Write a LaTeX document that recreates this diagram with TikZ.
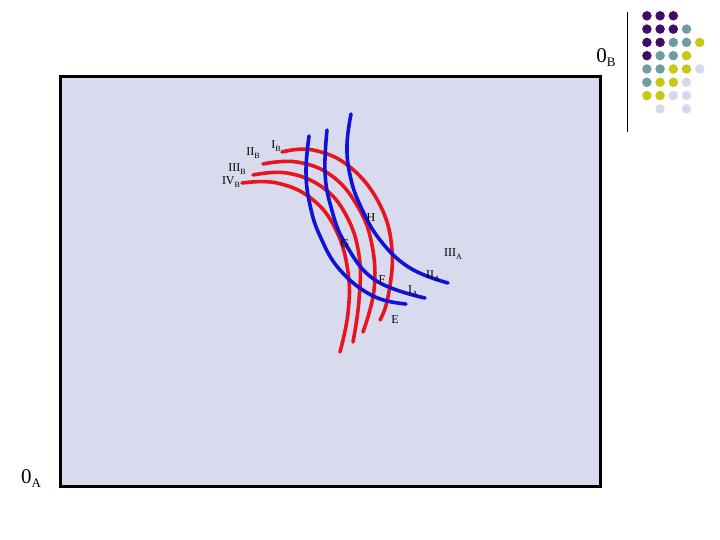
\documentclass[tikz,border=0pt]{standalone}
\usepackage{fontspec}
\setmainfont{Liberation Serif}
\definecolor{boxfill}{HTML}{D8DAEE}
\definecolor{cred}{HTML}{E8141E}
\definecolor{cblue}{HTML}{1212D6}
\definecolor{dpurple}{HTML}{400C68}
\definecolor{dteal}{HTML}{6E9CA0}
\definecolor{dyellow}{HTML}{C8C812}
\definecolor{dlav}{HTML}{D6D8EC}
\newcommand{\lbl}[2]{#1\raisebox{-2.5pt}{\fontsize{8}{8}\selectfont #2}}
\newcommand{\biglbl}[2]{#1\raisebox{-4pt}{\fontsize{13}{13}\selectfont #2}}
\tikzset{
  redcurve/.style={draw=cred, line width=3.6pt, line cap=round},
  bluecurve/.style={draw=cblue, line width=3.6pt, line cap=round},
  smalllab/.style={font=\fontsize{12}{12}\selectfont, inner sep=0pt, anchor=center},
  biglab/.style={font=\fontsize{21}{21}\selectfont, inner sep=0pt, anchor=center},
  dot/.style={circle, fill=#1, minimum size=9.5pt, inner sep=0pt}
}
\begin{document}
\begin{tikzpicture}[x=1pt,y=-1pt]
\useasboundingbox (0,0) rectangle (720,540);
\fill[white] (0,0) rectangle (720,540);
% main box
\draw[line width=3pt, fill=boxfill] (60,77) rectangle (600,486);
% red curves
\draw[redcurve] plot[smooth, tension=0.7] coordinates {(282,152) (313,150) (350,167) (380,205) (392,250) (388,297) (380,320)};
\draw[redcurve] plot[smooth, tension=0.7] coordinates {(263,164) (297,162) (332,176) (358,207) (372,245) (374,290) (363,332)};
\draw[redcurve] plot[smooth, tension=0.7] coordinates {(253,175) (287,173) (322,187) (346,215) (359,255) (359,300) (353,342)};
\draw[redcurve] plot[smooth, tension=0.7] coordinates {(242,183) (277,183) (312,199) (336,230) (348,272) (348,313) (340,352)};
% blue curves
\draw[bluecurve] plot[smooth, tension=0.7] coordinates {(309,136) (306,172) (310,205) (320,236) (340,270) (373,296) (406,304)};
\draw[bluecurve] plot[smooth, tension=0.7] coordinates {(327,130) (325,172) (331,207) (345,243) (375,280) (425,298)};
\draw[bluecurve] plot[smooth, tension=0.7] coordinates {(351,114) (347,145) (350,175) (360,205) (380,240) (410,268) (448,283)};
% labels B
\node[smalllab] (IB) at (276,146) {\lbl{I}{B}};
\node[smalllab] (IIB) at (253,153) {\lbl{II}{B}};
\node[smalllab] (IIIB) at (237,169) {\lbl{III}{B}};
\node[smalllab] (IVB) at (231,182) {\lbl{IV}{B}};
% labels A
\node[smalllab] (IA) at (413,291) {\lbl{I}{A}};
\node[smalllab] (IIA) at (433,276) {\lbl{II}{A}};
\node[smalllab] (IIIA) at (453,254) {\lbl{III}{A}};
% points
\node[smalllab] (H) at (371,218) {H};
\node[smalllab] (G) at (345,244) {G};
\node[smalllab] (F) at (382,280) {F};
\node[smalllab] (E) at (395,320) {E};
% origins
\node[biglab] (OA) at (31,479) {\biglbl{0}{A}};
\node[biglab] (OB) at (606,58) {\biglbl{0}{B}};
% vertical line
\draw[line width=1pt] (627.5,12) -- (627.5,132);
% dots
\foreach \c/\r/\col in {
  1/1/dpurple, 2/1/dpurple, 3/1/dpurple,
  1/2/dpurple, 2/2/dpurple, 3/2/dpurple, 4/2/dteal,
  1/3/dpurple, 2/3/dpurple, 3/3/dteal, 4/3/dteal, 5/3/dyellow,
  1/4/dpurple, 2/4/dteal, 3/4/dteal, 4/4/dyellow,
  1/5/dteal, 2/5/dteal, 3/5/dyellow, 4/5/dyellow, 5/5/dlav,
  1/6/dteal, 2/6/dyellow, 3/6/dyellow, 4/6/dlav,
  1/7/dyellow, 2/7/dyellow, 3/7/dlav, 4/7/dlav,
  2/8/dlav, 4/8/dlav}
  \node[dot=\col] (d\c-\r) at ({633.7+13.2*\c},{2.5+13.3*\r}) {};
\end{tikzpicture}
\end{document}
